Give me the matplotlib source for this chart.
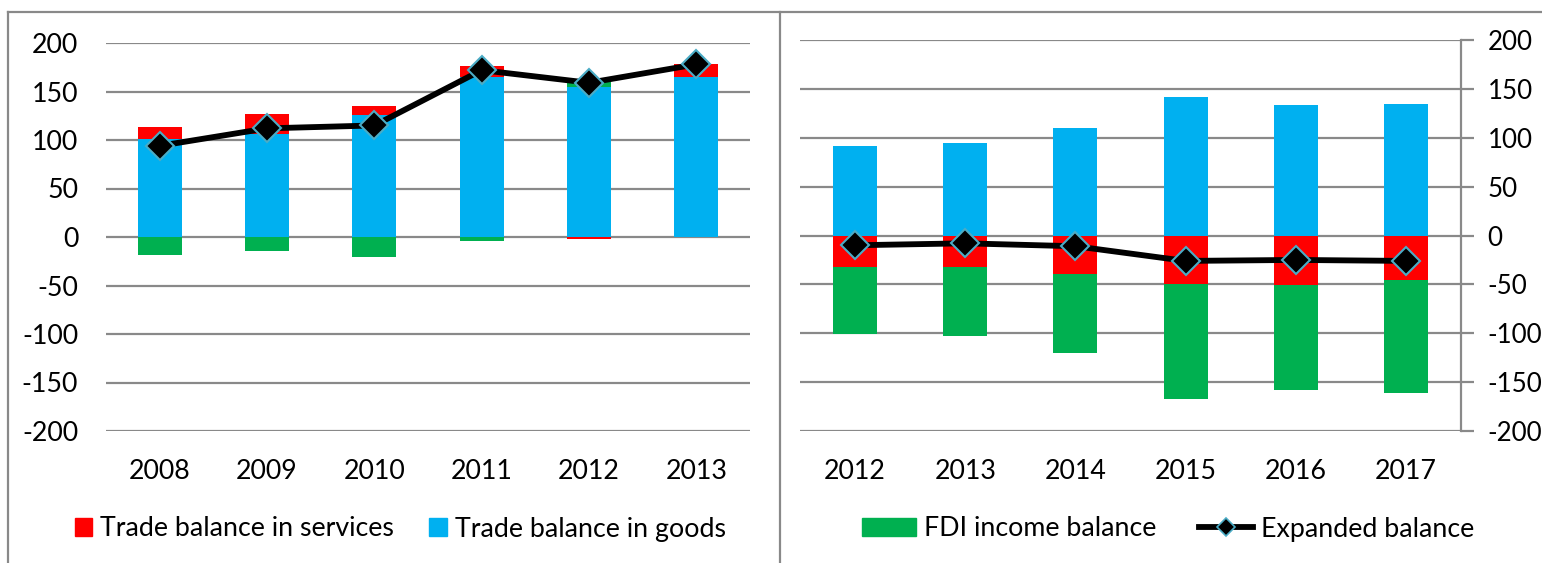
import matplotlib
matplotlib.use("Agg")
import matplotlib.pyplot as plt
import numpy as np
from matplotlib.patches import Patch
from matplotlib.lines import Line2D

plt.rcParams['font.family'] = ['Lato', 'DejaVu Sans']
plt.rcParams['axes.unicode_minus'] = False

# ---- data ----
years_left = ['2008', '2009', '2010', '2011', '2012', '2013']
goods_left = [101, 106.5, 126, 165, 154.5, 165.3]
services_left = [12, 20, 8.7, 11.6, -2, 13.4]
fdi_left = [-18.2, -14.4, -20.3, -4.5, 5.8, 0]
expanded_left = [94, 112, 115, 172, 159, 178]

years_right = ['2012', '2013', '2014', '2015', '2016', '2017']
goods_right = [91.3, 95.1, 109.7, 141.4, 133.3, 135]
services_right = [-32.7, -32.4, -39.5, -49.4, -50.8, -45.3]
fdi_right = [-68.2, -70.9, -81.2, -118.3, -107.4, -115.9]
expanded_right = [-10, -8, -11, -26, -25, -26]

labels = ['Trade balance in services', 'Trade balance in goods',
          'FDI income balance', 'Expanded balance']
yticks = [-200, -150, -100, -50, 0, 50, 100, 150, 200]

C_RED = '#FF0000'
C_BLUE = '#00B0F0'
C_GREEN = '#00B050'
C_GRID = '#898989'
C_MEDGE = '#4BACC6'
FS = 19.3

W, H = 1542, 563
fig = plt.figure(figsize=(W / 100, H / 100), dpi=100)


def px(x0, y0, x1, y1):
    return [x0 / W, 1 - y1 / H, (x1 - x0) / W, (y1 - y0) / H]


def draw(ax, cats, goods, services, fdi, expanded, width):
    x = np.arange(len(cats))
    pos = np.zeros(len(cats))
    neg = np.zeros(len(cats))
    for vals, col in [(goods, C_BLUE), (services, C_RED), (fdi, C_GREEN)]:
        v = np.array(vals, dtype=float)
        bottoms = np.where(v >= 0, pos, neg)
        ax.bar(x, v, width, bottom=bottoms, color=col, zorder=3, linewidth=0)
        pos = pos + np.where(v >= 0, v, 0)
        neg = neg + np.where(v < 0, v, 0)
    ax.plot(x, expanded, color='black', lw=4.2, marker='D', markersize=14,
            markerfacecolor='black', markeredgecolor=C_MEDGE,
            markeredgewidth=1.5, zorder=5)
    ax.set_xlim(-0.5, len(cats) - 0.5)
    ax.set_ylim(-200, 200)
    ax.set_yticks(yticks)
    ax.set_xticks(x)
    ax.set_xticklabels(cats)
    ax.yaxis.grid(True, color=C_GRID, lw=1.6, zorder=0)
    ax.set_axisbelow(True)
    for s in ax.spines.values():
        s.set_visible(False)
    ax.tick_params(axis='x', length=0, pad=20, labelsize=FS)
    ax.tick_params(axis='y', labelsize=FS)


ax1 = fig.add_axes(px(106, 43, 750, 431))
draw(ax1, years_left, goods_left, services_left, fdi_left, expanded_left, 0.41)
ax1.tick_params(axis='y', length=0, pad=20)

ax2 = fig.add_axes(px(800, 40, 1461, 431))
draw(ax2, years_right, goods_right, services_right, fdi_right, expanded_right, 0.40)
ax2.yaxis.tick_right()
ax2.spines['right'].set_visible(True)
ax2.spines['right'].set_color(C_GRID)
ax2.spines['right'].set_linewidth(1.6)
ax2.tick_params(axis='y', length=9, width=1.6, color=C_GRID, direction='out',
                pad=10, labelsize=18.6)

# frame lines
for (xa, ya, xb, yb) in [(8, 12, 1542, 12), (8, 12, 8, 563), (780, 12, 780, 563)]:
    fig.add_artist(Line2D([xa / W, xb / W], [1 - ya / H, 1 - yb / H],
                          color=C_GRID, lw=1.6, transform=fig.transFigure))

# legends
h_left = [Patch(color=C_RED), Patch(color=C_BLUE)]
fig.legend(h_left, labels[:2], loc='center left', bbox_to_anchor=(75 / W, 1 - 529 / H),
           ncol=2, frameon=False, fontsize=FS, handlelength=0.65, handleheight=0.65,
           handletextpad=0.3, columnspacing=1.3, borderpad=0, borderaxespad=0)

h_right = [Patch(color=C_GREEN),
           Line2D([0], [0], color='black', lw=4.2, marker='D', markersize=9,
                  markerfacecolor='black', markeredgecolor=C_MEDGE, markeredgewidth=1.2)]
fig.legend(h_right, labels[2:], loc='center left', bbox_to_anchor=(862 / W, 1 - 529 / H),
           ncol=2, frameon=False, fontsize=FS, handlelength=2.0, handleheight=0.65,
           handletextpad=0.3, columnspacing=1.6, borderpad=0, borderaxespad=0)

fig.savefig('out.png', dpi=100)
